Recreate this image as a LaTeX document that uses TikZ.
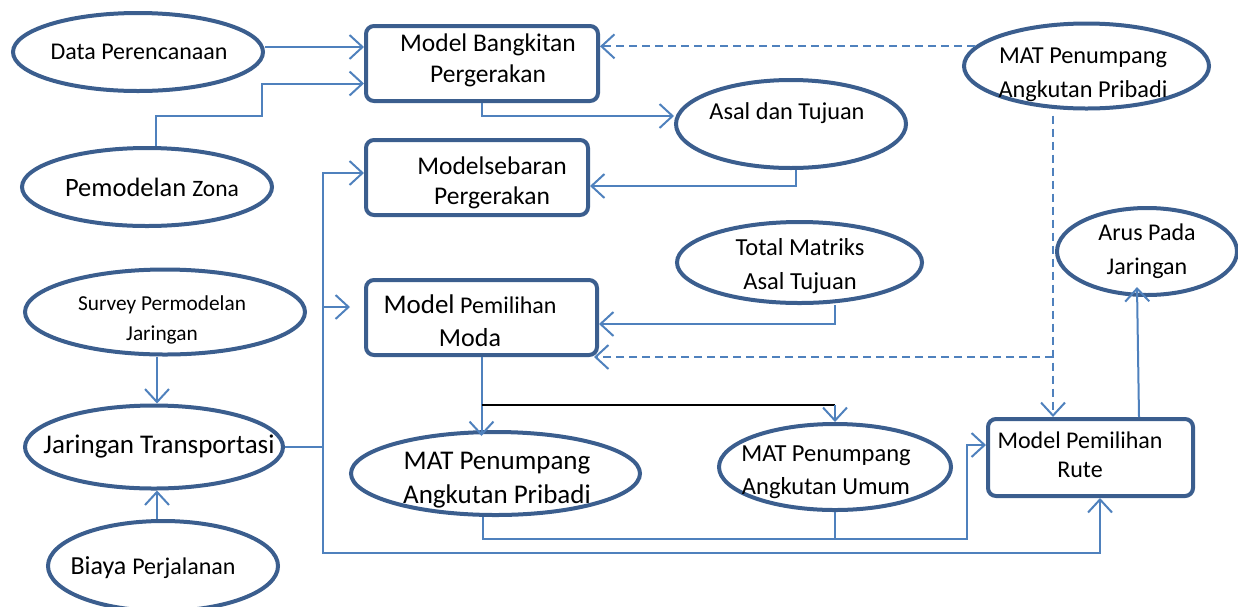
\documentclass[tikz,border=0pt]{standalone}
\usepackage{fontspec}
\setmainfont{Carlito}
\usetikzlibrary{arrows.meta,shapes.geometric,calc}
\definecolor{outl}{HTML}{3B5E8E}
\definecolor{conn}{HTML}{4F81BD}
\begin{document}
\begin{tikzpicture}[x=1pt,y=-1pt,
  ell/.style={draw=outl,line width=4pt,ellipse,inner sep=0pt},
  box/.style={draw=outl,line width=4pt,rectangle,rounded corners=8pt,inner sep=0pt},
  txt/.style={align=center,inner sep=0pt,font=\fontsize{24.5}{33}\selectfont},
  ln/.style={draw=conn,line width=2pt},
  arr/.style={ln,-{Straight Barb[length=13pt,width=24pt,line width=2pt]}},
  darr/.style={arr,dash pattern=on 8pt off 5pt}]
\useasboundingbox (0,0) rectangle (1238,606);
% shapes
\node[ell,minimum width=250pt,minimum height=78pt] (dp) at (138,52) {};
\node[ell,minimum width=250pt,minimum height=78pt] (pz) at (147,187) {};
\node[ell,minimum width=280pt,minimum height=85pt] (sv) at (165,312) {};
\node[ell,minimum width=258pt,minimum height=83pt] (jt) at (154,447) {};
\node[ell,minimum width=230pt,minimum height=90pt] (bp) at (163,566) {};
\node[box,minimum width=232pt,minimum height=75pt] (mb) at (482,63.5) {};
\node[box,minimum width=222pt,minimum height=75pt] (ms) at (477,177.5) {};
\node[box,minimum width=231pt,minimum height=75pt] (mm) at (481.5,317.5) {};
\node[ell,minimum width=230pt,minimum height=88pt] (at) at (791,124) {};
\node[ell,minimum width=245pt,minimum height=81pt] (tm) at (799.5,262.5) {};
\node[ell,minimum width=245pt,minimum height=85pt] (mt) at (1086.5,66) {};
\node[ell,minimum width=180pt,minimum height=87pt] (ap) at (1147,251.5) {};
\node[box,minimum width=205pt,minimum height=77pt] (mr) at (1090.5,457.5) {};
\node[ell,minimum width=232pt,minimum height=86pt] (mu) at (835,467) {};
\node[ell,minimum width=289pt,minimum height=83pt] (mp) at (495.5,473.5) {};
% texts
\node[txt,font=\fontsize{24}{33}\selectfont] (tdp) at (139,52) {Data Perencanaan};
\node[txt] (tpz) at (152,187) {\fontsize{26.5}{33}\selectfont Pemodelan {\fontsize{23.5}{33}\selectfont Zona}};
\node[txt,font=\fontsize{21.3}{30}\selectfont] (tsv) at (162,320) {Survey Permodelan\\Jaringan};
\node[txt,font=\fontsize{27}{33}\selectfont] (tjt) at (159,447) {Jaringan Transportasi};
\node[txt] (tbp) at (153,568) {\fontsize{26}{33}\selectfont Biaya {\fontsize{24}{33}\selectfont Perjalanan}};
\node[txt,font=\fontsize{25.5}{31}\selectfont] (tmb) at (488,60) {Model Bangkitan\\Pergerakan};
\node[txt,font=\fontsize{25.5}{30}\selectfont] (tms) at (492,183) {Modelsebaran\\Pergerakan};
\node[txt] (tmm) at (470,321) {{\fontsize{27}{33}\selectfont Model} {\fontsize{24}{33}\selectfont Pemilihan}\\{\fontsize{26}{33}\selectfont Moda}};
\node[txt,font=\fontsize{24.3}{33}\selectfont] (tat) at (787,113) {Asal dan Tujuan};
\node[txt,font=\fontsize{24.5}{34}\selectfont] (ttm) at (800,266) {Total Matriks\\Asal Tujuan};
\node[txt,font=\fontsize{24.3}{34}\selectfont] (tmt) at (1083,75) {MAT Penumpang\\Angkutan Pribadi};
\node[txt,font=\fontsize{24}{34}\selectfont] (tap) at (1147,251) {Arus Pada\\Jaringan};
\node[txt,font=\fontsize{24}{29}\selectfont] (tmr) at (1080,455) {Model Pemilihan\\Rute};
\node[txt,font=\fontsize{24.5}{33}\selectfont] (tmu) at (826,472) {MAT Penumpang\\Angkutan Umum};
\node[txt,font=\fontsize{27}{34}\selectfont] (tmp) at (497,480) {MAT Penumpang\\Angkutan Pribadi};
% coordinates
\coordinate (vx) at (323,447);
\coordinate (vbot) at (323,553);
\coordinate (j1) at (967,539);
\coordinate (zz) at (262,116);
% connectors
\draw[arr] ([yshift=5pt]dp.east) -- ([yshift=5pt]dp.east -| mb.west);
\draw[arr] ([xshift=9pt]pz.north) |- (zz) |- ([yshift=-20pt]mb.west);
\draw[arr] (mb.south) |- ([yshift=8pt]at.west);
\draw[arr] ([xshift=5pt]at.south) |- ([yshift=-8.5pt]ms.east);
\draw[darr] (mt.170) -- (mt.170 -| mb.east);
\draw[darr,shorten <=5pt] ([xshift=-33.5pt]mt.south) -- ([xshift=-33.5pt]mt.south |- mr.north);
\coordinate (dj) at ([xshift=-33.5pt]mt.south |- mm.south);
\draw[darr] (dj) -- ([xshift=-5pt]mm.south east);
\draw[arr] ([xshift=35pt]tm.south) |- ([yshift=-6.5pt]mm.east);
\draw[ln] (jt.east) -- (vx);
\draw[arr] (vx) |- ([yshift=4.5pt]ms.west);
\draw[arr,shorten >=14pt] ([yshift=10.5pt]mm.west -| vx) -- ([yshift=10.5pt]mm.west);
\draw[arr] (vx) -- (vbot) -| ([xshift=9.5pt]mr.south);
\draw[arr] (mm.south) -- ([yshift=-6pt]mm.south |- mp.north);
\coordinate (bk) at ($(mm.south)+(0,48)$);
\draw[black,line width=1.5pt] (bk) -- (bk -| mu.north);
\draw[arr] (bk -| mu.north) -- (mu.north);
\draw[arr] ([xshift=-12.5pt]mp.south) |- (j1) |- ([yshift=12.5pt]mr.west);
\draw[ln] (mu.south) -- (mu.south |- j1);
\draw[arr] ([xshift=48.5pt]mr.north) -- ([xshift=-10pt,yshift=10pt]ap.south);
\draw[arr] ([xshift=-8pt]sv.south) -- ([xshift=-8pt]sv.south |- jt.north);
\draw[arr] ([xshift=-6pt]bp.north) -- ([xshift=-6pt]bp.north |- jt.south);
\end{tikzpicture}
\end{document}
